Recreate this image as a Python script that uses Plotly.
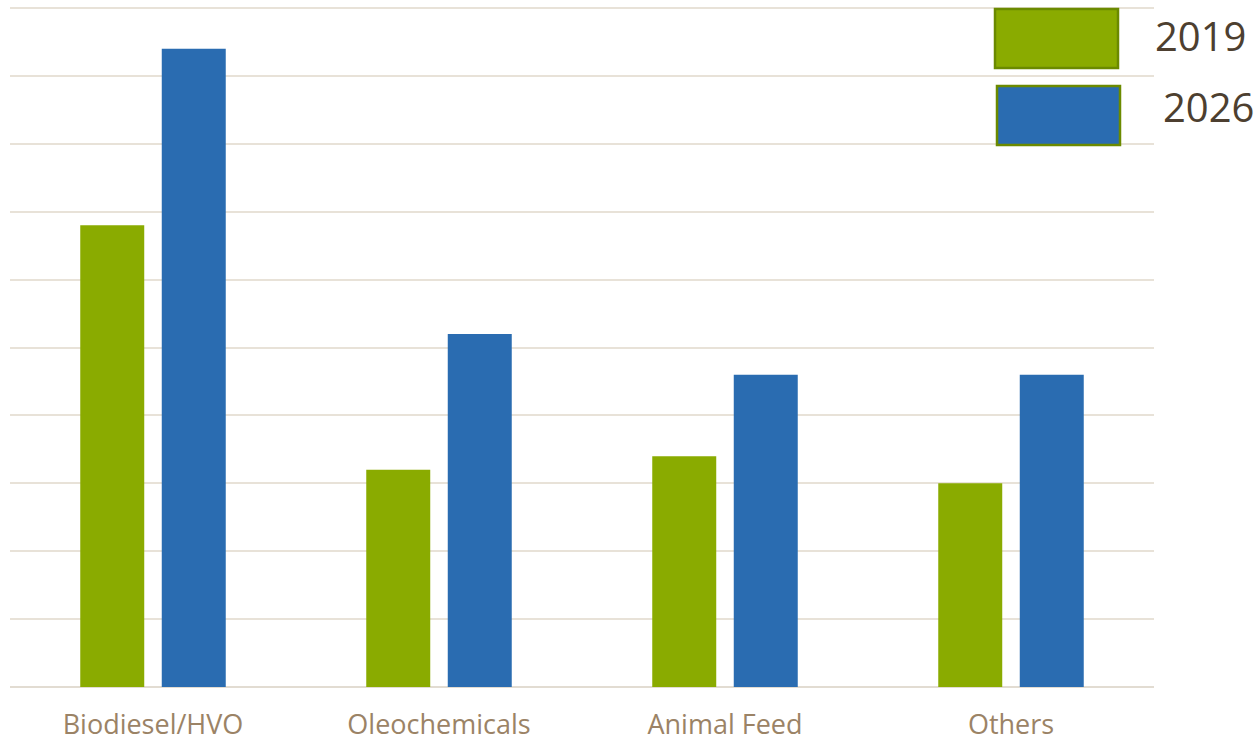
import plotly.graph_objects as go

categories = ["Biodiesel/HVO", "Oleochemicals", "Animal Feed", "Others"]
series_names = ["2019", "2026"]
values_2019 = [6.8, 3.2, 3.4, 3.0]
values_2026 = [9.4, 5.2, 4.6, 4.6]
colors = ["#8aab00", "#2a6cb1"]

W, H = 1260, 741
ml, mr, mt, mb = 10, 106, 6, 54

fig = go.Figure()
for name, vals, col in zip(series_names, [values_2019, values_2026], colors):
    fig.add_trace(go.Bar(x=categories, y=vals, name=name, marker_color=col,
                         marker_line_width=0, showlegend=False))

# custom legend (large swatches) in paper coordinates
pw = W - ml - mr
ph = H - mt - mb
def px(x): return (x - ml) / pw
def py(y): return (H - mb - y) / ph

boxes = [(995, 9, 1118, 68), (997, 86, 1120, 145)]
text_pos = [(1200, 35), (1208, 106)]
for (x0, y0, x1, y1), col, name, (tx, ty) in zip(boxes, colors, series_names, text_pos):
    fig.add_shape(type="rect", xref="paper", yref="paper",
                  x0=px(x0), x1=px(x1), y0=py(y1), y1=py(y0),
                  fillcolor=col, line=dict(color="#6b8a00", width=2.5), layer="above")
    fig.add_annotation(xref="paper", yref="paper", x=px(tx), y=py(ty),
                       text=name, showarrow=False, xanchor="center", yanchor="middle",
                       font=dict(size=40, color="#4d3f30", family="Open Sans"))

fig.update_layout(
    width=W, height=H,
    margin=dict(l=ml, r=mr, t=mt, b=mb, autoexpand=False),
    paper_bgcolor="white", plot_bgcolor="white",
    barmode="group", bargap=0.43, bargroupgap=0.215,
    font=dict(family="Open Sans"),
    xaxis=dict(showline=False, ticks="outside", ticklen=14, tickcolor="rgba(0,0,0,0)",
               tickfont=dict(size=27, color="#9b8366"), showgrid=False, automargin=False),
    yaxis=dict(range=[0, 10.03], dtick=1, showticklabels=False, showgrid=True,
               gridcolor="#e8e2d8", gridwidth=2, zeroline=True,
               zerolinecolor="#e2dcd2", zerolinewidth=2, showline=False, automargin=False),
)

fig.write_html("out.html")
